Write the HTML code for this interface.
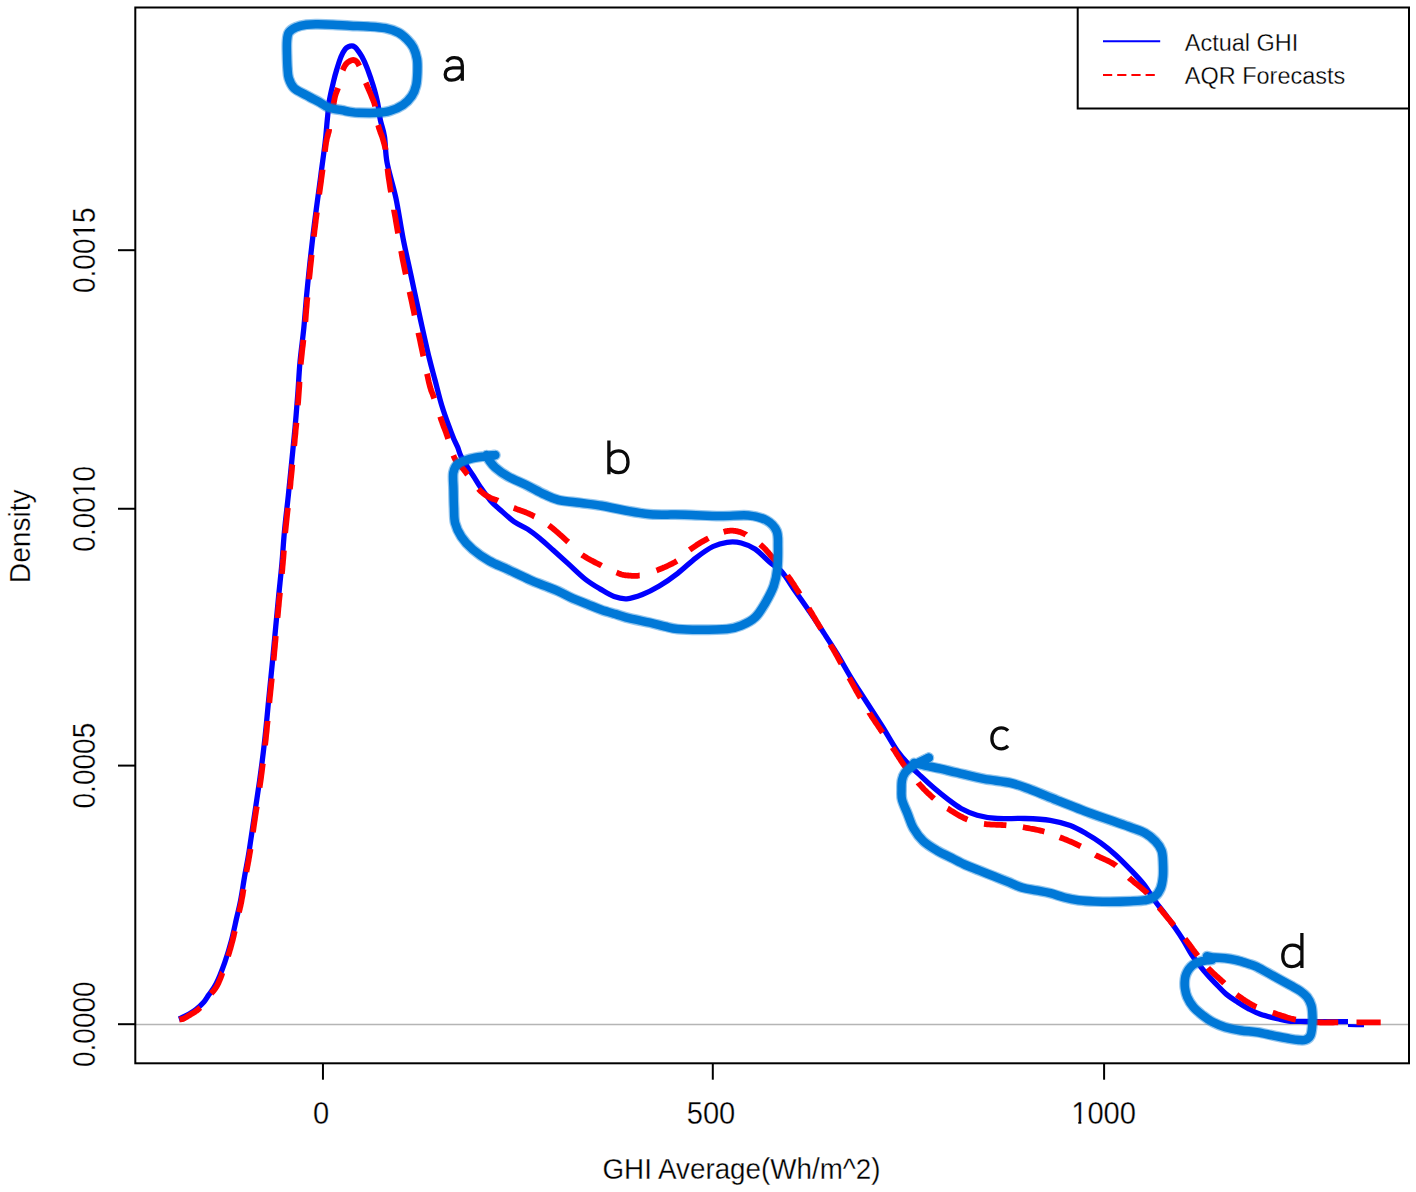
<!DOCTYPE html>
<html><head><meta charset="utf-8"><style>
html,body{margin:0;padding:0;background:#fff;}
body{width:1416px;height:1192px;overflow:hidden;font-family:"Liberation Sans",sans-serif;}
svg{display:block;}
</style></head><body>
<svg width="1416" height="1192" viewBox="0 0 1416 1192">
<rect width="1416" height="1192" fill="#fff"/>
<line x1="135.3" y1="1024.45" x2="1409" y2="1024.45" stroke="#b5b5b5" stroke-width="1.5"/>
<path d="M178.8,1019.0 C179.4,1018.8 180.6,1018.3 182.3,1017.5 C184.0,1016.7 186.7,1015.4 189.1,1014.0 C191.5,1012.6 194.0,1011.0 196.5,1009.0 C199.0,1007.0 201.8,1004.4 203.9,1002.0 C206.0,999.6 206.7,997.9 208.8,994.8 C210.9,991.7 213.7,988.9 216.3,983.5 C219.0,978.1 222.2,969.7 224.7,962.6 C227.2,955.5 229.5,948.0 231.4,940.7 C233.3,933.4 234.9,925.6 236.4,918.9 C237.9,912.2 239.2,907.8 240.6,900.5 C242.0,893.2 243.4,883.4 244.8,875.3 C246.2,867.2 247.6,860.8 249.0,851.8 C250.4,842.8 251.8,833.4 253.5,821.6 C255.2,809.9 257.6,794.7 259.5,781.3 C261.4,767.9 263.1,754.5 264.6,741.0 C266.1,727.5 267.3,714.1 268.6,700.6 C269.9,687.1 271.4,672.6 272.6,660.3 C273.8,648.0 274.7,637.5 275.7,627.0 C276.7,616.5 277.5,608.2 278.5,597.6 C279.5,587.0 280.9,574.9 281.9,563.6 C282.9,552.3 283.5,541.0 284.6,529.7 C285.7,518.4 287.1,507.0 288.3,495.7 C289.5,484.4 290.6,473.1 291.7,461.8 C292.8,450.5 294.0,439.2 295.0,427.9 C296.0,416.6 297.0,404.9 297.8,393.9 C298.6,382.9 299.0,372.9 300.0,362.0 C301.0,351.1 302.7,339.4 303.8,328.3 C304.9,317.2 305.6,306.5 306.6,295.6 C307.6,284.7 308.8,273.0 309.9,262.8 C311.0,252.6 312.0,243.5 313.1,234.4 C314.2,225.3 315.1,218.1 316.4,208.3 C317.7,198.5 319.4,186.4 320.8,175.5 C322.2,164.6 324.0,152.1 325.1,142.8 C326.2,133.5 326.6,126.8 327.3,119.8 C328.0,112.8 328.4,106.8 329.4,100.5 C330.4,94.2 332.2,87.2 333.4,82.0 C334.6,76.8 335.5,73.6 336.8,69.4 C338.1,65.2 339.6,60.2 341.0,56.8 C342.4,53.4 343.9,50.9 345.2,49.2 C346.5,47.5 347.5,47.2 348.6,46.6 C349.7,46.0 350.9,45.9 351.9,45.9 C352.9,45.9 353.7,46.2 354.5,46.8 C355.3,47.3 355.6,47.5 356.9,49.2 C358.1,50.9 360.3,53.7 362.0,56.8 C363.7,59.9 365.5,63.9 367.0,67.7 C368.5,71.5 369.9,75.7 371.2,79.5 C372.5,83.3 373.5,86.4 374.6,90.4 C375.7,94.5 376.9,98.9 377.8,103.8 C378.8,108.7 379.2,114.3 380.3,119.8 C381.4,125.3 383.4,129.4 384.5,136.6 C385.6,143.8 385.2,152.6 387.1,162.8 C389.0,173.0 393.2,185.3 395.9,198.0 C398.6,210.7 400.5,225.3 403.2,239.0 C405.9,252.7 409.1,266.4 412.0,280.1 C414.9,293.8 417.9,308.1 420.8,321.1 C423.7,334.1 426.8,348.2 429.2,358.0 C431.6,367.8 432.9,372.1 435.0,380.0 C437.1,387.9 439.3,397.4 441.7,405.2 C444.1,413.0 447.2,421.6 449.2,427.0 C451.1,432.4 452.0,434.5 453.4,437.9 C454.8,441.2 456.3,444.0 457.6,447.1 C458.9,450.2 459.4,453.1 461.0,456.3 C462.6,459.5 464.9,463.0 467.0,466.4 C469.1,469.8 471.5,473.1 473.7,476.5 C475.9,479.9 477.5,483.0 480.3,487.0 C483.1,491.0 487.0,496.6 490.3,500.4 C493.6,504.2 496.4,506.5 500.4,510.0 C504.3,513.5 509.5,518.4 514.0,521.6 C518.5,524.8 523.3,526.3 527.6,529.1 C531.9,531.9 535.4,534.7 539.7,538.2 C544.0,541.7 548.5,546.0 553.3,550.3 C558.1,554.6 563.1,559.1 568.4,563.9 C573.7,568.7 579.7,574.8 585.0,579.0 C590.3,583.2 595.1,586.0 600.0,588.9 C604.9,591.8 609.6,595.0 614.1,596.6 C618.6,598.2 622.1,599.1 626.8,598.8 C631.5,598.4 637.0,596.6 642.4,594.5 C647.8,592.4 653.4,589.5 659.3,586.0 C665.2,582.5 671.6,578.0 677.7,573.3 C683.8,568.6 690.1,562.3 696.0,557.8 C701.9,553.3 707.8,549.1 713.0,546.5 C718.2,543.9 722.4,542.9 727.1,542.3 C731.8,541.7 736.5,541.8 741.2,543.0 C745.9,544.2 750.7,546.1 755.4,549.3 C760.1,552.5 765.1,558.3 769.5,562.0 C773.9,565.7 777.3,566.8 781.6,571.6 C785.9,576.4 790.6,584.5 795.1,590.9 C799.6,597.3 803.8,603.1 808.6,610.2 C813.4,617.3 819.3,626.0 824.1,633.4 C828.9,640.8 833.1,647.2 837.6,654.6 C842.1,662.0 846.6,670.4 851.1,677.8 C855.6,685.2 859.5,691.0 864.6,699.0 C869.8,707.0 876.5,717.3 882.0,726.0 C887.5,734.7 892.9,744.7 897.4,751.1 C901.9,757.5 905.1,760.4 909.0,764.6 C912.9,768.8 916.7,772.2 920.9,776.2 C925.1,780.2 929.8,784.5 934.3,788.3 C938.8,792.1 943.2,795.7 947.7,799.1 C952.2,802.5 956.2,805.8 961.1,808.5 C966.0,811.2 971.2,813.5 977.2,815.2 C983.2,816.9 989.6,818.0 997.4,818.5 C1005.2,819.0 1015.4,818.2 1024.2,818.5 C1033.0,818.8 1042.4,819.1 1050.1,820.3 C1057.8,821.5 1064.2,823.4 1070.3,825.6 C1076.3,827.8 1081.3,830.8 1086.4,833.7 C1091.5,836.6 1096.2,839.5 1101.1,843.1 C1106.0,846.7 1111.0,850.7 1115.9,855.2 C1120.8,859.7 1126.0,865.0 1130.7,869.9 C1135.4,874.8 1140.1,879.6 1144.1,884.7 C1148.1,889.9 1151.4,896.1 1154.8,900.8 C1158.2,905.5 1160.8,908.4 1164.2,912.9 C1167.6,917.4 1171.8,923.1 1175.0,927.7 C1178.2,932.3 1180.6,935.8 1183.5,940.5 C1186.4,945.2 1189.2,951.0 1192.6,956.0 C1196.0,961.0 1200.1,966.2 1203.9,970.7 C1207.7,975.2 1211.4,979.2 1215.2,983.1 C1219.0,987.0 1222.7,991.2 1226.5,994.4 C1230.3,997.6 1234.0,999.8 1237.8,1002.3 C1241.6,1004.8 1245.3,1007.1 1249.1,1009.1 C1252.9,1011.1 1255.7,1012.6 1260.4,1014.2 C1265.1,1015.8 1272.6,1017.6 1277.3,1018.7 C1282.0,1019.8 1283.9,1020.5 1288.6,1021.0 C1293.3,1021.5 1298.7,1021.4 1305.6,1021.5 C1312.5,1021.6 1322.9,1021.6 1330.0,1021.6 C1337.1,1021.6 1345.0,1021.7 1348.0,1021.7" fill="none" stroke="#0000ff" stroke-width="5.3" stroke-linejoin="round"/>
<path d="M1348.0,1025.6 C1350.7,1025.6 1361.3,1025.8 1364.0,1025.8" fill="none" stroke="#0000ff" stroke-width="3" />
<path d="M179.6,1019.5 L179.8,1019.5 L180.0,1019.4 L180.3,1019.4 L180.5,1019.4 L180.8,1019.3 L181.2,1019.3 L181.5,1019.2 L181.9,1019.2 L182.3,1019.1 L182.7,1018.9 L183.2,1018.8 L183.6,1018.6 L184.1,1018.4 L184.6,1018.1 L185.1,1017.8 L185.7,1017.5 L186.2,1017.2 L186.8,1016.9 L187.4,1016.5 L188.1,1016.1 L188.7,1015.7 L189.3,1015.4 L189.9,1015.0 L190.5,1014.6 L191.1,1014.2 L191.7,1013.9 L192.3,1013.5 L192.9,1013.1 L193.5,1012.8 L194.2,1012.4 L194.8,1012.0 L195.4,1011.6 L196.0,1011.1 L196.7,1010.7 L197.3,1010.2 L197.9,1009.7 L198.5,1009.2 L199.2,1008.6 L199.8,1008.0 L200.3,1007.6M211.2,993.5 L211.3,993.4 L211.9,992.7 L212.5,992.0 L213.1,991.3 L213.8,990.5 L214.4,989.7 L215.1,988.8 L215.7,987.9 L216.4,986.9 L217.0,985.7 L217.7,984.5 L218.4,983.1 L219.0,981.6 L219.7,980.0 L220.4,978.3 L221.1,976.6 L221.8,974.7 L222.4,972.9 L222.5,972.8M228.1,956.1 L228.6,954.4 L229.2,952.6 L229.7,950.7 L230.3,948.9 L230.8,947.0 L231.3,945.2 L231.8,943.3 L232.3,941.5 L232.8,939.7 L233.2,937.8 L233.7,935.9 L234.1,934.0 L234.5,932.2 L234.8,931.0M239.0,912.3 L239.1,911.9 L239.4,910.4 L239.8,909.0 L240.1,907.5 L240.5,906.0 L240.8,904.4 L241.2,902.8 L241.5,901.0 L241.8,899.1 L242.2,897.2 L242.6,895.2 L242.9,893.1 L243.2,891.0 L243.6,889.1M246.4,871.9 L246.7,870.2 L247.1,868.3 L247.4,866.5 L247.8,864.6 L248.1,862.7 L248.5,860.8 L248.8,858.8 L249.2,856.8 L249.5,854.7 L249.9,852.5 L250.3,850.2 L250.4,849.0M252.9,832.1 L253.2,830.5 L253.6,827.7 L254.0,824.9 L254.4,822.0 L254.9,819.0 L255.3,815.9 L255.8,812.7 L256.3,809.4 L256.8,806.6M259.6,787.7 L259.9,785.4 L260.4,782.0 L260.9,778.6 L261.3,775.3 L261.8,771.9 L262.2,768.5 L262.6,765.2 L262.9,763.4M265.1,745.4 L265.1,744.9 L265.5,741.5 L265.9,738.1 L266.2,734.7 L266.6,731.4 L266.9,728.0 L267.2,724.6 L267.6,721.2 L267.6,720.9M269.3,702.9 L269.5,701.0 L269.8,697.6 L270.2,694.2 L270.5,690.8 L270.9,687.4 L271.2,684.0 L271.6,680.6 L271.8,678.5M273.6,660.4 L273.8,658.0 L274.1,655.0 L274.3,652.1 L274.6,649.2 L274.9,646.4 L275.1,643.6 L275.4,640.8 L275.6,638.1 L275.8,636.0M277.5,618.0 L277.5,617.5 L277.8,615.2 L278.0,612.8 L278.2,610.4 L278.4,608.0 L278.7,605.6 L278.9,603.1 L279.1,600.6 L279.4,598.0 L279.7,595.3 L279.9,592.7M281.9,573.9 L282.0,572.6 L282.3,569.7 L282.5,566.8 L282.8,564.0 L283.0,561.2 L283.3,558.3 L283.5,555.5 L283.7,552.7 L283.9,550.5M285.2,533.2 L285.2,532.8 L285.5,530.0 L285.8,527.2 L286.1,524.3 L286.4,521.5 L286.7,518.7 L287.0,515.8 L287.3,513.0 L287.6,510.2 L287.9,507.8M289.9,489.1 L290.1,487.5 L290.4,484.7 L290.6,481.8 L290.9,479.0 L291.2,476.2 L291.5,473.3 L291.8,470.5 L292.0,467.7 L292.3,464.8 L292.4,464.4M294.2,446.1 L294.3,445.0 L294.6,442.2 L294.8,439.3 L295.1,436.5 L295.4,433.7 L295.6,430.8 L295.9,428.0 L296.2,425.2 L296.4,422.7M297.8,405.3 L297.8,405.1 L298.1,402.3 L298.3,399.5 L298.5,396.7 L298.7,394.0 L298.9,391.3 L299.1,388.6 L299.3,386.0 L299.4,383.4 L299.5,381.8M300.7,364.4 L300.9,362.5 L301.2,359.7 L301.5,357.0 L301.8,354.1 L302.1,351.3 L302.4,348.4 L302.8,345.6 L303.1,342.7 L303.4,339.9M305.3,321.8 L305.5,320.3 L305.7,317.6 L305.9,314.9 L306.1,312.2 L306.3,309.5 L306.6,306.8 L306.8,304.1 L307.0,301.4 L307.3,298.7 L307.4,297.3M309.1,279.3 L309.1,279.2 L309.4,276.4 L309.7,273.6 L310.0,270.9 L310.2,268.2 L310.5,265.6 L310.8,263.0 L311.1,260.5 L311.3,258.0 L311.6,255.6 L311.7,254.8M313.8,236.7 L314.0,235.0 L314.3,232.8 L314.5,230.6 L314.8,228.5 L315.1,226.4 L315.3,224.4 L315.6,222.3 L315.8,220.2 L316.1,218.1 L316.4,215.9 L316.7,213.7 L316.9,212.3M319.2,194.3 L319.4,192.9 L319.8,190.1 L320.2,187.2 L320.6,184.4 L321.0,181.6 L321.3,178.8 L321.7,176.0 L322.1,173.2 L322.5,170.3 L322.5,169.8M324.9,151.7 L325.1,149.9 L325.4,147.5 L325.7,145.4 L326.0,143.5 L326.2,141.9 L326.5,140.7 L326.7,139.6 L326.8,138.8 L327.0,138.1 L327.1,137.5 L327.3,137.1 L327.4,136.7 L327.5,136.3 L327.7,135.9 L327.8,135.5 L327.9,135.0 L328.0,134.5 L328.1,134.0 L328.2,133.6 L328.3,133.3 L328.4,133.0 L328.5,132.7 L328.6,132.3 L328.7,132.0 L328.8,131.6 L328.9,131.1 L329.0,130.5 L329.1,129.8 L329.2,129.0M332.1,112.2 L332.1,112.0 L332.3,111.0 L332.4,110.1 L332.6,109.1 L332.8,108.2 L333.0,107.3 L333.1,106.4 L333.3,105.5 L333.5,104.6 L333.6,103.8 L333.8,103.0 L333.9,102.1 L334.1,101.3 L334.2,100.5 L334.4,99.8 L334.5,99.0 L334.7,98.2 L334.8,97.5 L335.0,96.7 L335.2,96.0 L335.4,95.3 L335.6,94.6 L335.8,93.9 L336.1,93.2 L336.3,92.6 L336.6,91.9 L336.8,91.3 L337.1,90.6 L337.3,90.0 L337.6,89.3 L337.8,88.6 L338.0,88.0M342.7,70.2 L343.0,69.6 L343.2,69.0 L343.5,68.3 L343.8,67.7 L344.1,67.1 L344.4,66.5 L344.7,66.0 L345.1,65.4 L345.4,64.9 L345.8,64.4 L346.1,63.9 L346.5,63.5 L346.9,63.1 L347.3,62.7 L347.8,62.3 L348.2,62.0 L348.7,61.7 L349.2,61.4 L349.7,61.1 L350.1,60.9 L350.6,60.7 L351.1,60.5 L351.5,60.3 L351.9,60.2 L352.3,60.1 L352.7,60.1 L353.0,60.0 L353.4,60.0 L353.8,60.1 L354.1,60.1 L354.4,60.2 L354.8,60.3 L355.1,60.5 L355.4,60.6 L355.7,60.8 L356.0,61.0 L356.3,61.2 L356.6,61.5 L356.8,61.7 L357.1,62.0 L357.3,62.3 L357.5,62.6 L357.8,63.0 L358.0,63.4 L358.2,63.8 L358.5,64.2 L358.7,64.7 L359.0,65.2 L359.3,65.7 L359.4,65.9M365.8,82.8 L366.2,83.7 L366.6,84.7 L367.0,85.7 L367.4,86.7 L367.9,87.7 L368.4,88.8 L368.8,89.8 L369.3,90.9 L369.7,91.9 L370.2,93.0 L370.6,94.0 L371.0,95.0 L371.4,96.0 L371.8,96.9 L372.1,97.7 L372.5,98.6 L372.8,99.4 L373.2,100.3 L373.5,101.1 L373.9,102.0 L374.2,103.0 L374.5,104.0 L374.8,105.1 L375.1,106.3 L375.1,106.4M378.1,125.0 L378.5,126.2 L378.8,127.5 L379.3,128.9 L379.7,130.2 L380.2,131.5 L380.6,132.8 L381.1,134.0 L381.5,135.2 L382.0,136.4 L382.4,137.6 L382.8,138.8 L383.1,139.9 L383.4,141.0 L383.7,141.9 L383.9,142.8 L384.2,143.7 L384.4,144.5 L384.6,145.3 L384.8,146.2 L385.0,147.1 L385.2,148.1 L385.4,149.2 L385.4,149.7M387.5,168.6 L387.6,169.4 L387.9,171.9 L388.2,174.6 L388.6,177.4 L389.1,180.4 L389.6,183.7 L390.1,187.2 L390.7,190.8 L391.0,192.3M394.0,209.7 L394.0,210.2 L394.7,214.0 L395.4,217.8 L396.0,221.4 L396.6,224.9 L397.2,228.4 L397.8,231.9 L398.1,233.4M401.1,250.9 L401.4,252.3 L402.0,255.7 L402.6,259.1 L403.3,262.5 L404.0,265.9 L404.7,269.3 L405.4,272.8 L405.8,274.4M409.5,291.8 L409.9,293.2 L410.6,296.7 L411.4,300.1 L412.1,303.5 L412.8,306.9 L413.6,310.4 L414.3,313.8 L414.6,315.4M418.4,332.8 L418.7,334.4 L419.5,337.8 L420.2,341.2 L420.9,344.6 L421.6,348.0 L422.4,351.6 L423.1,355.2 L423.4,356.3M427.0,373.7 L427.6,376.2 L428.2,379.2 L428.8,381.9 L429.4,384.2 L429.9,386.2 L430.3,387.7 L430.7,389.0 L431.0,389.9 L431.2,390.7 L431.5,391.4 L431.8,392.0 L432.0,392.7 L432.4,393.4 L432.7,394.3 L433.1,395.4 L433.6,396.8 L434.2,398.5 L434.2,398.5M440.2,416.6 L440.7,418.2 L441.4,420.2 L442.0,421.9 L442.5,423.4 L443.0,424.7 L443.4,425.9 L443.8,426.9 L444.2,427.9 L444.6,428.8 L444.9,429.7 L445.3,430.7 L445.7,431.7 L446.1,432.8 L446.5,434.0 L447.0,435.4 L447.5,437.0 L448.1,438.8 L448.1,438.8M453.4,455.4 L453.8,456.4 L454.5,458.0 L455.2,459.4 L456.0,460.6 L456.7,461.7 L457.5,462.7 L458.2,463.6 L459.0,464.5 L459.9,465.4 L460.7,466.3 L461.6,467.2 L462.5,468.2 L463.5,469.4 L464.5,470.6 L465.6,472.0 L466.7,473.6 L467.6,474.7M478.5,488.9 L479.3,489.8 L480.3,490.9 L481.3,491.8 L482.3,492.6 L483.2,493.4 L484.1,494.0 L484.9,494.6 L485.7,495.2 L486.6,495.7 L487.4,496.1 L488.2,496.6 L489.0,497.0 L489.8,497.5 L490.6,497.9 L491.3,498.3 L492.0,498.6 L492.7,498.8 L493.4,499.1 L494.1,499.3 L494.8,499.5 L495.5,499.7 L496.2,500.0 L497.1,500.3 L497.9,500.6 L498.1,500.7M513.7,507.9 L514.0,508.0 L515.3,508.5 L516.7,509.1 L518.0,509.6 L519.4,510.0 L520.7,510.5 L522.1,511.0 L523.5,511.5 L524.9,512.0 L526.3,512.6 L527.7,513.2 L529.2,513.8 L530.6,514.5 L532.1,515.2 L533.5,516.0 L534.6,516.5M548.8,525.3 L550.5,526.6 L552.3,528.0 L554.1,529.5 L556.0,531.1 L557.8,532.7 L559.7,534.4 L561.6,536.0 L563.4,537.7 L565.2,539.3 L566.9,540.8 L568.2,542.0M582.0,554.8 L583.4,555.8 L585.0,556.7 L586.6,557.7 L588.3,558.7 L590.1,559.7 L591.9,560.7 L593.7,561.6 L595.5,562.6 L597.3,563.5 L599.1,564.4 L600.8,565.3 L601.5,565.7M616.5,572.5 L617.5,572.9 L618.7,573.4 L619.8,573.8 L620.8,574.2 L621.7,574.5 L622.5,574.7 L623.2,574.9 L623.8,575.0 L624.4,575.1 L625.0,575.2 L625.5,575.3 L626.1,575.3 L626.7,575.4 L627.4,575.4 L628.2,575.5 L629.0,575.6 L629.8,575.7 L630.7,575.7 L631.5,575.8 L632.4,575.9 L633.3,575.9 L634.2,575.9 L635.2,575.9 L636.2,575.9 L637.3,575.8 L638.3,575.7 L639.5,575.5 L639.7,575.5M656.5,570.5 L658.1,569.9 L659.7,569.2 L661.4,568.6 L663.1,567.8 L664.8,567.1 L666.6,566.3 L668.3,565.5 L670.0,564.7 L671.7,563.9 L673.3,563.0 L674.8,562.2 L676.3,561.3 L677.0,560.9M689.6,549.9 L690.4,549.3 L691.8,548.3 L693.3,547.3 L694.8,546.3 L696.3,545.3 L697.9,544.3 L699.5,543.3 L701.1,542.3 L702.7,541.4 L704.3,540.5 L705.9,539.6 L707.4,538.8 L708.5,538.2M723.6,531.9 L724.3,531.7 L725.4,531.4 L726.4,531.2 L727.4,531.0 L728.4,530.9 L729.3,530.8 L730.2,530.7 L731.1,530.7 L732.0,530.7 L732.9,530.7 L733.8,530.8 L734.7,530.9 L735.6,531.0 L736.5,531.2 L737.5,531.4 L738.4,531.6 L739.3,531.8 L740.2,532.1 L741.1,532.4 L742.0,532.8 L742.9,533.2 L743.9,533.6 L744.9,534.1 L745.9,534.6 L746.0,534.7M760.2,544.4 L761.0,545.1 L762.0,546.0 L762.9,546.8 L763.8,547.6 L764.6,548.5 L765.4,549.3 L766.2,550.2 L767.0,551.1 L767.8,552.0 L768.7,553.0 L769.6,554.1 L770.5,555.2 L771.6,556.4 L772.7,557.7 L774.0,559.1 L775.3,560.6 L776.2,561.7M787.3,575.2 L787.4,575.4 L788.5,576.9 L789.6,578.4 L790.6,579.8 L791.6,581.3 L792.5,582.7 L793.5,584.1 L794.4,585.6 L795.3,587.0 L796.2,588.4 L797.1,589.9 L798.1,591.3 L799.0,592.8 L799.8,594.1M808.7,608.2 L809.6,609.7 L810.5,611.2 L811.4,612.6 L812.2,614.0 L813.0,615.4 L813.8,616.7 L814.6,618.0 L815.3,619.3 L816.1,620.7 L816.9,622.0 L817.7,623.3 L818.5,624.7 L819.3,626.1 L820.2,627.6 L821.1,629.1 L821.1,629.1M830.4,644.5 L830.6,644.9 L831.8,646.9 L833.1,649.1 L834.5,651.5 L835.9,654.1 L837.5,656.8 L839.0,659.6 L840.6,662.5 L841.3,663.6M849.2,677.8 L850.3,679.7 L851.2,681.4 L852.1,683.0 L852.9,684.5 L853.7,685.9 L854.4,687.2 L855.1,688.4 L855.7,689.7 L856.4,691.0 L857.2,692.3 L858.0,693.6 L858.8,695.1 L859.7,696.6 L860.5,698.0M869.3,712.6 L869.4,712.9 L870.4,714.4 L871.4,715.9 L872.3,717.4 L873.3,718.9 L874.3,720.3 L875.2,721.8 L876.2,723.2 L877.2,724.6 L878.1,726.1 L879.1,727.5 L880.1,728.9 L881.0,730.4 L882.0,731.8 L882.6,732.7M892.5,747.6 L892.6,747.8 L893.6,749.2 L894.6,750.6 L895.5,752.1 L896.4,753.5 L897.3,755.0 L898.3,756.4 L899.2,757.9 L900.1,759.3 L901.1,760.8 L902.0,762.2 L903.0,763.7 L904.0,765.1 L905.1,766.6 L906.2,768.1 L906.4,768.4M918.1,782.7 L918.3,783.0 L919.5,784.3 L920.7,785.6 L921.8,786.8 L922.9,788.0 L924.0,789.2 L925.1,790.3 L926.2,791.4 L927.3,792.5 L928.4,793.6 L929.6,794.6 L930.7,795.7 L931.8,796.7 L933.0,797.7 L934.0,798.6M947.5,808.4 L947.7,808.5 L949.1,809.4 L950.6,810.4 L952.1,811.3 L953.7,812.3 L955.3,813.3 L956.9,814.2 L958.6,815.2 L960.2,816.1 L961.8,816.9 L963.4,817.8 L965.0,818.5 L966.5,819.2 L967.5,819.6M984.0,823.9 L985.7,824.1 L987.4,824.3 L989.2,824.4 L991.0,824.6 L992.8,824.6 L994.7,824.7 L996.6,824.8 L998.4,824.8 L1000.2,824.9 L1002.0,825.0 L1003.7,825.1 L1005.4,825.2 L1006.4,825.3M1022.9,827.2 L1024.6,827.5 L1026.4,827.8 L1028.2,828.1 L1030.1,828.5 L1032.0,828.8 L1033.9,829.2 L1035.9,829.6 L1037.8,830.0 L1039.6,830.4 L1041.4,830.8 L1043.2,831.3 L1044.4,831.6M1059.7,837.2 L1060.9,837.7 L1062.4,838.3 L1063.9,838.9 L1065.5,839.5 L1067.1,840.2 L1068.7,840.9 L1070.3,841.5 L1071.9,842.2 L1073.5,842.9 L1075.1,843.6 L1076.7,844.4 L1078.2,845.1 L1079.7,845.8 L1080.7,846.3M1095.3,854.9 L1095.8,855.2 L1097.3,856.0 L1098.8,856.7 L1100.4,857.5 L1102.0,858.2 L1103.6,858.9 L1105.3,859.7 L1106.9,860.4 L1108.5,861.2 L1110.1,862.0 L1111.7,862.8 L1113.2,863.7 L1114.6,864.6 L1116.0,865.6 L1116.2,865.8M1129.0,877.7 L1129.3,878.0 L1130.7,879.3 L1132.3,880.5 L1133.9,881.9 L1135.5,883.2 L1137.2,884.6 L1138.9,886.0 L1140.5,887.3 L1142.2,888.7 L1143.8,890.1 L1145.3,891.5 L1146.8,892.8 L1147.5,893.5M1159.0,907.4 L1159.2,907.6 L1160.2,908.9 L1161.3,910.2 L1162.4,911.5 L1163.5,912.9 L1164.6,914.2 L1165.8,915.6 L1166.9,917.0 L1168.0,918.3 L1169.2,919.7 L1170.3,921.0 L1171.4,922.4 L1172.5,923.7 L1173.6,925.0 L1174.0,925.4M1185.0,938.8 L1185.7,939.7 L1186.7,941.0 L1187.6,942.2 L1188.6,943.5 L1189.6,944.8 L1190.5,946.1 L1191.5,947.4 L1192.4,948.7 L1193.3,949.9 L1194.3,951.2 L1195.2,952.5 L1196.2,953.7 L1197.1,954.9 L1197.8,955.8M1207.9,967.8 L1208.4,968.4 L1209.6,969.7 L1211.0,971.0 L1212.4,972.3 L1213.8,973.7 L1215.3,975.0 L1216.8,976.4 L1218.4,977.8 L1219.9,979.2 L1221.3,980.5 L1222.8,981.8 L1224.1,983.0 L1224.3,983.2M1236.6,994.6 L1236.6,994.6 L1237.8,995.5 L1239.1,996.5 L1240.5,997.4 L1241.9,998.4 L1243.4,999.5 L1244.9,1000.5 L1246.5,1001.5 L1248.1,1002.4 L1249.7,1003.4 L1251.2,1004.3 L1252.8,1005.2 L1254.4,1006.0 L1255.9,1006.8 L1256.4,1007.0M1272.7,1012.7 L1274.0,1013.1 L1275.6,1013.6 L1277.2,1014.2 L1278.9,1014.7 L1280.5,1015.3 L1282.2,1015.9 L1283.9,1016.4 L1285.6,1016.9 L1287.3,1017.5 L1289.0,1018.0 L1290.8,1018.5 L1292.5,1018.9 L1294.3,1019.3 L1295.8,1019.6M1313.5,1022.0 L1315.0,1022.2 L1316.9,1022.3 L1318.8,1022.4 L1320.5,1022.5 L1322.2,1022.5 L1323.9,1022.6 L1325.6,1022.6 L1327.3,1022.5 L1329.1,1022.5 L1331.0,1022.5 L1333.0,1022.5 L1335.1,1022.4 L1337.4,1022.4 L1338.2,1022.4M1356.5,1022.4 L1357.9,1022.4 L1361.9,1022.4 L1365.9,1022.4 L1369.7,1022.4 L1373.2,1022.4 L1376.3,1022.4 L1379.0,1022.4 L1380.7,1022.4" fill="none" stroke="#ff0000" stroke-width="5.8" stroke-linejoin="round"/>
<g opacity="0.42">
<path d="M295.9,27.3 C293.0,28.6 290.3,30.2 288.8,32.6 C287.3,35.0 287.3,37.7 287.0,41.4 C286.7,45.1 286.9,50.2 287.0,54.6 C287.1,59.0 287.2,63.9 287.5,67.9 C287.8,71.9 287.7,75.0 288.8,78.4 C289.9,81.8 291.2,85.3 294.1,88.1 C297.0,90.9 302.1,92.8 306.4,95.2 C310.6,97.6 315.9,100.2 319.6,102.2 C323.3,104.2 324.8,106.2 328.5,107.5 C332.2,108.8 338.1,109.5 341.7,110.2 C345.3,110.9 347.1,111.5 350.0,111.9 C352.9,112.3 354.4,112.7 358.8,112.8 C363.2,112.9 371.3,113.1 376.4,112.8 C381.5,112.5 385.2,112.3 389.6,111.0 C394.0,109.7 399.2,107.4 402.9,104.9 C406.6,102.4 409.5,99.3 411.7,96.1 C413.9,92.9 415.2,89.5 416.1,85.5 C417.1,81.5 417.2,76.7 417.4,72.3 C417.5,67.9 417.7,63.1 417.0,59.0 C416.3,54.9 415.0,50.8 413.4,47.6 C411.8,44.4 409.8,42.2 407.3,39.7 C404.8,37.2 402.2,34.5 398.5,32.6 C394.8,30.7 390.3,29.2 385.2,28.2 C380.1,27.2 373.5,26.9 367.6,26.5 C361.7,26.1 355.8,26.1 350.0,25.8 C344.2,25.5 338.3,24.9 333.0,24.7 C327.7,24.4 322.4,24.3 318.0,24.3 C313.6,24.3 310.1,24.2 306.4,24.7 C302.7,25.2 298.8,26.0 295.9,27.3 Z" fill="none" stroke="#0078d7" stroke-width="10.9" stroke-linecap="round" stroke-linejoin="round"/>
<path d="M495.3,455.1 C493.6,455.3 489.5,455.7 485.3,456.3 C481.1,456.9 474.8,457.5 470.2,458.8 C465.6,460.1 460.8,461.6 458.0,463.9 C455.2,466.2 454.1,468.5 453.3,472.7 C452.6,476.9 453.4,483.1 453.5,489.0 C453.6,494.9 453.7,502.2 454.0,507.9 C454.3,513.6 453.9,518.2 455.1,523.0 C456.3,527.8 458.5,532.4 461.4,536.8 C464.3,541.2 468.1,545.4 472.7,549.4 C477.3,553.4 483.1,557.4 489.0,560.7 C494.9,564.1 501.1,566.3 507.9,569.5 C514.7,572.7 523.9,577.2 530.0,579.9 C536.1,582.6 539.5,583.7 544.3,585.6 C549.0,587.5 553.8,589.2 558.5,591.3 C563.2,593.4 568.0,596.3 572.8,598.4 C577.6,600.5 582.4,602.2 587.1,604.1 C591.9,606.0 596.5,608.1 601.3,609.8 C606.0,611.5 610.8,612.7 615.6,614.1 C620.4,615.5 624.2,617.0 629.9,618.4 C635.6,619.8 644.1,621.4 650.0,622.7 C655.9,624.1 660.4,625.4 665.0,626.5 C669.6,627.6 672.1,628.6 677.7,629.1 C683.4,629.6 690.7,629.8 698.9,629.8 C707.1,629.8 720.0,629.8 727.1,629.1 C734.2,628.4 736.5,627.6 741.2,625.6 C745.9,623.6 751.4,620.9 755.4,617.1 C759.4,613.3 762.2,608.2 765.3,603.0 C768.3,597.8 771.7,591.6 773.7,586.0 C775.7,580.4 776.6,575.7 777.3,569.1 C778.0,562.5 778.1,552.9 778.0,546.5 C777.9,540.1 778.5,535.4 776.6,531.0 C774.7,526.6 771.4,523.0 766.7,520.4 C762.0,517.8 756.1,516.1 748.3,515.4 C740.5,514.7 730.6,516.2 720.0,516.1 C709.4,516.0 696.4,515.0 684.7,514.7 C673.0,514.4 660.3,515.0 650.0,514.2 C639.7,513.4 630.9,511.4 622.8,510.0 C614.7,508.6 608.4,506.9 601.3,505.7 C594.1,504.5 587.0,503.8 579.9,502.8 C572.8,501.9 564.4,501.4 558.5,500.0 C552.6,498.6 549.6,496.8 544.3,494.3 C539.0,491.9 532.9,488.3 526.8,485.3 C520.7,482.3 513.1,479.3 507.9,476.4 C502.6,473.4 498.4,470.3 495.3,467.6 C492.2,464.9 490.5,462.2 489.0,460.1 C487.5,458.0 486.9,455.9 486.5,455.1" fill="none" stroke="#0078d7" stroke-width="10.9" stroke-linecap="round" stroke-linejoin="round"/>
<path d="M928.7,757.8 C927.3,758.5 922.9,760.4 920.2,761.8 C917.5,763.2 915.1,764.3 912.6,766.1 C910.1,767.9 906.9,770.4 905.1,772.7 C903.3,775.1 902.6,777.3 902.0,780.2 C901.4,783.1 901.5,787.0 901.5,790.3 C901.5,793.6 901.1,796.0 902.1,800.0 C903.1,804.0 905.8,809.4 907.7,814.1 C909.6,818.8 910.8,823.7 913.4,828.2 C916.0,832.7 919.2,837.2 923.2,841.0 C927.2,844.8 932.7,848.0 937.4,850.8 C942.1,853.6 946.8,855.5 951.5,857.9 C956.2,860.3 960.9,862.9 965.6,865.0 C970.3,867.1 975.0,868.7 979.7,870.6 C984.4,872.5 989.2,874.4 993.9,876.3 C998.6,878.2 1003.3,880.0 1008.0,881.9 C1012.7,883.8 1017.4,886.2 1022.1,887.6 C1026.8,889.0 1031.5,889.5 1036.2,890.4 C1040.9,891.3 1045.7,892.0 1050.4,893.2 C1055.1,894.4 1059.8,896.3 1064.5,897.5 C1069.2,898.7 1073.5,899.6 1078.6,900.3 C1083.7,900.9 1089.8,901.2 1095.0,901.4 C1100.2,901.6 1104.2,901.7 1110.1,901.7 C1116.0,901.7 1124.4,901.5 1130.3,901.2 C1136.2,901.0 1141.4,901.0 1145.4,900.2 C1149.4,899.5 1152.0,898.6 1154.5,896.7 C1157.0,894.8 1159.1,892.0 1160.5,888.6 C1161.9,885.2 1162.6,880.9 1163.0,876.5 C1163.4,872.1 1163.2,866.8 1163.0,862.4 C1162.8,858.0 1162.8,853.9 1161.5,850.4 C1160.2,846.9 1158.2,844.2 1155.5,841.3 C1152.8,838.4 1149.6,835.6 1145.4,833.2 C1141.2,830.9 1136.2,829.4 1130.3,827.2 C1124.4,825.0 1116.8,822.5 1110.1,820.1 C1103.4,817.8 1098.9,816.4 1090.0,813.1 C1081.1,809.8 1066.6,804.0 1056.8,800.1 C1047.0,796.2 1038.6,792.6 1030.9,789.7 C1023.2,786.9 1018.6,784.8 1010.8,783.0 C1003.0,781.2 993.0,780.6 984.0,778.9 C975.0,777.2 964.4,774.4 957.1,772.7 C949.8,771.0 945.6,769.9 940.3,768.7 C935.0,767.5 929.6,766.6 925.2,765.6 C920.8,764.6 915.9,763.4 914.0,763.0" fill="none" stroke="#0078d7" stroke-width="10.9" stroke-linecap="round" stroke-linejoin="round"/>
<path d="M1207.0,956.2 C1208.3,956.4 1212.0,957.3 1215.0,957.6 C1218.0,957.9 1221.7,957.8 1225.0,958.2 C1228.3,958.6 1232.2,959.2 1235.0,959.8 C1237.8,960.4 1239.5,961.0 1242.0,961.7 C1244.5,962.5 1247.5,963.4 1250.0,964.3 C1252.5,965.1 1252.9,964.8 1256.8,966.8 C1260.7,968.8 1267.9,972.9 1273.5,976.0 C1279.1,979.1 1285.8,982.8 1290.3,985.3 C1294.8,987.8 1297.6,989.1 1300.4,991.1 C1303.2,993.1 1305.3,994.6 1307.1,997.0 C1308.9,999.4 1310.4,1002.2 1311.3,1005.4 C1312.2,1008.6 1312.4,1012.7 1312.5,1016.3 C1312.6,1019.9 1312.4,1024.0 1312.1,1027.2 C1311.8,1030.4 1311.5,1033.5 1310.4,1035.6 C1309.3,1037.7 1307.4,1039.1 1305.4,1039.8 C1303.5,1040.5 1301.2,1040.2 1298.7,1040.0 C1296.2,1039.8 1294.5,1039.6 1290.3,1038.9 C1286.1,1038.2 1279.1,1036.7 1273.5,1035.6 C1267.9,1034.5 1262.2,1033.0 1256.8,1032.2 C1251.4,1031.4 1246.2,1031.3 1241.0,1030.5 C1235.8,1029.7 1230.0,1028.6 1225.3,1027.2 C1220.6,1025.8 1216.5,1024.1 1212.7,1022.1 C1208.9,1020.1 1205.9,1017.9 1202.7,1015.4 C1199.5,1012.9 1196.0,1010.2 1193.4,1007.1 C1190.8,1004.0 1188.6,1000.2 1187.2,997.0 C1185.8,993.8 1185.3,990.6 1184.9,988.0 C1184.5,985.4 1184.6,983.5 1184.7,981.6 C1184.8,979.7 1185.0,978.2 1185.4,976.5 C1185.9,974.8 1186.5,973.1 1187.4,971.5 C1188.3,969.9 1189.6,968.1 1190.8,966.8 C1192.0,965.5 1193.0,964.7 1194.8,963.8 C1196.6,962.9 1199.5,961.8 1201.5,961.2 C1203.5,960.6 1205.2,960.4 1207.0,960.2 C1208.8,960.0 1211.2,959.9 1212.0,959.8" fill="none" stroke="#0078d7" stroke-width="10.9" stroke-linecap="round" stroke-linejoin="round"/>
<path d="M487,456 L494.5,455.3" fill="none" stroke="#0078d7" stroke-width="10.9" stroke-linecap="round" stroke-linejoin="round"/>
<path d="M921,762 L928.7,757.8" fill="none" stroke="#0078d7" stroke-width="10.9" stroke-linecap="round" stroke-linejoin="round"/>
</g>
<path d="M295.9,27.3 C293.0,28.6 290.3,30.2 288.8,32.6 C287.3,35.0 287.3,37.7 287.0,41.4 C286.7,45.1 286.9,50.2 287.0,54.6 C287.1,59.0 287.2,63.9 287.5,67.9 C287.8,71.9 287.7,75.0 288.8,78.4 C289.9,81.8 291.2,85.3 294.1,88.1 C297.0,90.9 302.1,92.8 306.4,95.2 C310.6,97.6 315.9,100.2 319.6,102.2 C323.3,104.2 324.8,106.2 328.5,107.5 C332.2,108.8 338.1,109.5 341.7,110.2 C345.3,110.9 347.1,111.5 350.0,111.9 C352.9,112.3 354.4,112.7 358.8,112.8 C363.2,112.9 371.3,113.1 376.4,112.8 C381.5,112.5 385.2,112.3 389.6,111.0 C394.0,109.7 399.2,107.4 402.9,104.9 C406.6,102.4 409.5,99.3 411.7,96.1 C413.9,92.9 415.2,89.5 416.1,85.5 C417.1,81.5 417.2,76.7 417.4,72.3 C417.5,67.9 417.7,63.1 417.0,59.0 C416.3,54.9 415.0,50.8 413.4,47.6 C411.8,44.4 409.8,42.2 407.3,39.7 C404.8,37.2 402.2,34.5 398.5,32.6 C394.8,30.7 390.3,29.2 385.2,28.2 C380.1,27.2 373.5,26.9 367.6,26.5 C361.7,26.1 355.8,26.1 350.0,25.8 C344.2,25.5 338.3,24.9 333.0,24.7 C327.7,24.4 322.4,24.3 318.0,24.3 C313.6,24.3 310.1,24.2 306.4,24.7 C302.7,25.2 298.8,26.0 295.9,27.3 Z" fill="none" stroke="#0078d7" stroke-width="8.5" stroke-linecap="round" stroke-linejoin="round"/>
<path d="M495.3,455.1 C493.6,455.3 489.5,455.7 485.3,456.3 C481.1,456.9 474.8,457.5 470.2,458.8 C465.6,460.1 460.8,461.6 458.0,463.9 C455.2,466.2 454.1,468.5 453.3,472.7 C452.6,476.9 453.4,483.1 453.5,489.0 C453.6,494.9 453.7,502.2 454.0,507.9 C454.3,513.6 453.9,518.2 455.1,523.0 C456.3,527.8 458.5,532.4 461.4,536.8 C464.3,541.2 468.1,545.4 472.7,549.4 C477.3,553.4 483.1,557.4 489.0,560.7 C494.9,564.1 501.1,566.3 507.9,569.5 C514.7,572.7 523.9,577.2 530.0,579.9 C536.1,582.6 539.5,583.7 544.3,585.6 C549.0,587.5 553.8,589.2 558.5,591.3 C563.2,593.4 568.0,596.3 572.8,598.4 C577.6,600.5 582.4,602.2 587.1,604.1 C591.9,606.0 596.5,608.1 601.3,609.8 C606.0,611.5 610.8,612.7 615.6,614.1 C620.4,615.5 624.2,617.0 629.9,618.4 C635.6,619.8 644.1,621.4 650.0,622.7 C655.9,624.1 660.4,625.4 665.0,626.5 C669.6,627.6 672.1,628.6 677.7,629.1 C683.4,629.6 690.7,629.8 698.9,629.8 C707.1,629.8 720.0,629.8 727.1,629.1 C734.2,628.4 736.5,627.6 741.2,625.6 C745.9,623.6 751.4,620.9 755.4,617.1 C759.4,613.3 762.2,608.2 765.3,603.0 C768.3,597.8 771.7,591.6 773.7,586.0 C775.7,580.4 776.6,575.7 777.3,569.1 C778.0,562.5 778.1,552.9 778.0,546.5 C777.9,540.1 778.5,535.4 776.6,531.0 C774.7,526.6 771.4,523.0 766.7,520.4 C762.0,517.8 756.1,516.1 748.3,515.4 C740.5,514.7 730.6,516.2 720.0,516.1 C709.4,516.0 696.4,515.0 684.7,514.7 C673.0,514.4 660.3,515.0 650.0,514.2 C639.7,513.4 630.9,511.4 622.8,510.0 C614.7,508.6 608.4,506.9 601.3,505.7 C594.1,504.5 587.0,503.8 579.9,502.8 C572.8,501.9 564.4,501.4 558.5,500.0 C552.6,498.6 549.6,496.8 544.3,494.3 C539.0,491.9 532.9,488.3 526.8,485.3 C520.7,482.3 513.1,479.3 507.9,476.4 C502.6,473.4 498.4,470.3 495.3,467.6 C492.2,464.9 490.5,462.2 489.0,460.1 C487.5,458.0 486.9,455.9 486.5,455.1" fill="none" stroke="#0078d7" stroke-width="8.5" stroke-linecap="round" stroke-linejoin="round"/>
<path d="M928.7,757.8 C927.3,758.5 922.9,760.4 920.2,761.8 C917.5,763.2 915.1,764.3 912.6,766.1 C910.1,767.9 906.9,770.4 905.1,772.7 C903.3,775.1 902.6,777.3 902.0,780.2 C901.4,783.1 901.5,787.0 901.5,790.3 C901.5,793.6 901.1,796.0 902.1,800.0 C903.1,804.0 905.8,809.4 907.7,814.1 C909.6,818.8 910.8,823.7 913.4,828.2 C916.0,832.7 919.2,837.2 923.2,841.0 C927.2,844.8 932.7,848.0 937.4,850.8 C942.1,853.6 946.8,855.5 951.5,857.9 C956.2,860.3 960.9,862.9 965.6,865.0 C970.3,867.1 975.0,868.7 979.7,870.6 C984.4,872.5 989.2,874.4 993.9,876.3 C998.6,878.2 1003.3,880.0 1008.0,881.9 C1012.7,883.8 1017.4,886.2 1022.1,887.6 C1026.8,889.0 1031.5,889.5 1036.2,890.4 C1040.9,891.3 1045.7,892.0 1050.4,893.2 C1055.1,894.4 1059.8,896.3 1064.5,897.5 C1069.2,898.7 1073.5,899.6 1078.6,900.3 C1083.7,900.9 1089.8,901.2 1095.0,901.4 C1100.2,901.6 1104.2,901.7 1110.1,901.7 C1116.0,901.7 1124.4,901.5 1130.3,901.2 C1136.2,901.0 1141.4,901.0 1145.4,900.2 C1149.4,899.5 1152.0,898.6 1154.5,896.7 C1157.0,894.8 1159.1,892.0 1160.5,888.6 C1161.9,885.2 1162.6,880.9 1163.0,876.5 C1163.4,872.1 1163.2,866.8 1163.0,862.4 C1162.8,858.0 1162.8,853.9 1161.5,850.4 C1160.2,846.9 1158.2,844.2 1155.5,841.3 C1152.8,838.4 1149.6,835.6 1145.4,833.2 C1141.2,830.9 1136.2,829.4 1130.3,827.2 C1124.4,825.0 1116.8,822.5 1110.1,820.1 C1103.4,817.8 1098.9,816.4 1090.0,813.1 C1081.1,809.8 1066.6,804.0 1056.8,800.1 C1047.0,796.2 1038.6,792.6 1030.9,789.7 C1023.2,786.9 1018.6,784.8 1010.8,783.0 C1003.0,781.2 993.0,780.6 984.0,778.9 C975.0,777.2 964.4,774.4 957.1,772.7 C949.8,771.0 945.6,769.9 940.3,768.7 C935.0,767.5 929.6,766.6 925.2,765.6 C920.8,764.6 915.9,763.4 914.0,763.0" fill="none" stroke="#0078d7" stroke-width="8.5" stroke-linecap="round" stroke-linejoin="round"/>
<path d="M1207.0,956.2 C1208.3,956.4 1212.0,957.3 1215.0,957.6 C1218.0,957.9 1221.7,957.8 1225.0,958.2 C1228.3,958.6 1232.2,959.2 1235.0,959.8 C1237.8,960.4 1239.5,961.0 1242.0,961.7 C1244.5,962.5 1247.5,963.4 1250.0,964.3 C1252.5,965.1 1252.9,964.8 1256.8,966.8 C1260.7,968.8 1267.9,972.9 1273.5,976.0 C1279.1,979.1 1285.8,982.8 1290.3,985.3 C1294.8,987.8 1297.6,989.1 1300.4,991.1 C1303.2,993.1 1305.3,994.6 1307.1,997.0 C1308.9,999.4 1310.4,1002.2 1311.3,1005.4 C1312.2,1008.6 1312.4,1012.7 1312.5,1016.3 C1312.6,1019.9 1312.4,1024.0 1312.1,1027.2 C1311.8,1030.4 1311.5,1033.5 1310.4,1035.6 C1309.3,1037.7 1307.4,1039.1 1305.4,1039.8 C1303.5,1040.5 1301.2,1040.2 1298.7,1040.0 C1296.2,1039.8 1294.5,1039.6 1290.3,1038.9 C1286.1,1038.2 1279.1,1036.7 1273.5,1035.6 C1267.9,1034.5 1262.2,1033.0 1256.8,1032.2 C1251.4,1031.4 1246.2,1031.3 1241.0,1030.5 C1235.8,1029.7 1230.0,1028.6 1225.3,1027.2 C1220.6,1025.8 1216.5,1024.1 1212.7,1022.1 C1208.9,1020.1 1205.9,1017.9 1202.7,1015.4 C1199.5,1012.9 1196.0,1010.2 1193.4,1007.1 C1190.8,1004.0 1188.6,1000.2 1187.2,997.0 C1185.8,993.8 1185.3,990.6 1184.9,988.0 C1184.5,985.4 1184.6,983.5 1184.7,981.6 C1184.8,979.7 1185.0,978.2 1185.4,976.5 C1185.9,974.8 1186.5,973.1 1187.4,971.5 C1188.3,969.9 1189.6,968.1 1190.8,966.8 C1192.0,965.5 1193.0,964.7 1194.8,963.8 C1196.6,962.9 1199.5,961.8 1201.5,961.2 C1203.5,960.6 1205.2,960.4 1207.0,960.2 C1208.8,960.0 1211.2,959.9 1212.0,959.8" fill="none" stroke="#0078d7" stroke-width="8.5" stroke-linecap="round" stroke-linejoin="round"/>
<path d="M487,456 L494.5,455.3" fill="none" stroke="#0078d7" stroke-width="8.5" stroke-linecap="round" stroke-linejoin="round"/>
<path d="M921,762 L928.7,757.8" fill="none" stroke="#0078d7" stroke-width="8.5" stroke-linecap="round" stroke-linejoin="round"/>
<rect x="135.3" y="7.5" width="1273.7" height="1055.8" fill="none" stroke="#000" stroke-width="2"/>
<path d="M1077.7,7.5 V108.6 H1409" fill="none" stroke="#000" stroke-width="2"/>
<line x1="1103" y1="41.2" x2="1160.2" y2="41.2" stroke="#0000ff" stroke-width="2"/>
<line x1="1103" y1="74.9" x2="1156" y2="74.9" stroke="#ff0000" stroke-width="2" stroke-dasharray="9.2 5"/>
<line x1="118" y1="250.2" x2="135.3" y2="250.2" stroke="#000" stroke-width="2"/>
<line x1="118" y1="508.75" x2="135.3" y2="508.75" stroke="#000" stroke-width="2"/>
<line x1="118" y1="765.6" x2="135.3" y2="765.6" stroke="#000" stroke-width="2"/>
<line x1="118" y1="1024.2" x2="135.3" y2="1024.2" stroke="#000" stroke-width="2"/>
<line x1="322.95" y1="1063.3" x2="322.95" y2="1079.7" stroke="#000" stroke-width="2"/>
<line x1="712.8" y1="1063.3" x2="712.8" y2="1079.7" stroke="#000" stroke-width="2"/>
<line x1="1104.1" y1="1063.3" x2="1104.1" y2="1079.7" stroke="#000" stroke-width="2"/>
<g transform="translate(95.3,250.2) rotate(-90) scale(0.92,1)"><text font-family="Liberation Sans, sans-serif" fill="#000" stroke="#fff" stroke-width="0.3" font-size="30.5" text-anchor="middle">0.0015</text><rect x="14.36" y="-3.38" width="5.78" height="4.08" fill="#fff"/><rect x="23.33" y="-3.38" width="6.02" height="4.08" fill="#fff"/></g>
<g transform="translate(95.3,508.75) rotate(-90) scale(0.92,1)"><text font-family="Liberation Sans, sans-serif" fill="#000" stroke="#fff" stroke-width="0.3" font-size="30.5" text-anchor="middle">0.0010</text><rect x="14.36" y="-3.38" width="5.78" height="4.08" fill="#fff"/><rect x="23.33" y="-3.38" width="6.02" height="4.08" fill="#fff"/></g>
<g transform="translate(95.3,765.6) rotate(-90) scale(0.92,1)"><text font-family="Liberation Sans, sans-serif" fill="#000" stroke="#fff" stroke-width="0.3" font-size="30.5" text-anchor="middle">0.0005</text></g>
<g transform="translate(95.3,1024.2) rotate(-90) scale(0.92,1)"><text font-family="Liberation Sans, sans-serif" fill="#000" stroke="#fff" stroke-width="0.3" font-size="30.5" text-anchor="middle">0.0000</text></g>
<g transform="translate(321.2,1124.2) scale(0.94,1)"><text font-family="Liberation Sans, sans-serif" fill="#000" stroke="#fff" stroke-width="0.3" font-size="31" text-anchor="middle">0</text></g>
<g transform="translate(711,1124.2) scale(0.94,1)"><text font-family="Liberation Sans, sans-serif" fill="#000" stroke="#fff" stroke-width="0.3" font-size="31" text-anchor="middle">500</text></g>
<g transform="translate(1103.6,1124.2) scale(0.94,1)"><text font-family="Liberation Sans, sans-serif" fill="#000" stroke="#fff" stroke-width="0.3" font-size="31" text-anchor="middle">1000</text><rect x="-32.82" y="-3.42" width="5.88" height="4.12" fill="#fff"/><rect x="-23.70" y="-3.42" width="6.12" height="4.12" fill="#fff"/></g>
<text font-family="Liberation Sans, sans-serif" fill="#000" stroke="#fff" stroke-width="0.3" font-size="29.5" text-anchor="middle" transform="translate(741.5,1179.2) scale(0.942,1)">GHI Average(Wh/m^2)</text>
<text font-family="Liberation Sans, sans-serif" fill="#000" stroke="#fff" stroke-width="0.3" font-size="29" text-anchor="middle" transform="translate(30,536.3) rotate(-90) scale(0.97,1)">Density</text>
<text font-family="Liberation Sans, sans-serif" fill="#000" stroke="#fff" stroke-width="0.3" font-size="24.4" transform="translate(1184.8,50.8) scale(0.962,1)">Actual GHI</text>
<text font-family="Liberation Sans, sans-serif" fill="#000" stroke="#fff" stroke-width="0.3" font-size="24.4" transform="translate(1184.8,84.4) scale(0.962,1)">AQR Forecasts</text>
<path fill="none" stroke="#0a0a0a" stroke-width="3.3" d="M446.8,61.8 C448.6,58.9 451.2,57.7 454.3,57.7 C459.6,57.7 462.3,60.3 462.3,65.5 L462.3,80.7 M462.3,67.6 L452.8,67.8 C447.6,68.1 445.2,71 445.2,74.5 C445.2,78.2 447.8,80.2 451.6,80.2 C455.8,80.2 459.8,77.8 462.3,73.2"/>
<path fill="none" stroke="#0a0a0a" stroke-width="3.3" d="M608.9,440.6 V474.2 M609.4,456.3 C611.4,452.6 614.7,450.9 618.5,450.9 C624.7,450.9 628,455.6 628,462.2 C628,468.8 624.5,472.6 618.5,472.6 C614.6,472.6 611.4,470.9 609.4,467.4"/>
<path fill="none" stroke="#0a0a0a" stroke-width="3.3" d="M1008,730.8 C1006.3,728.7 1004,727.8 1001.3,727.8 C995.5,727.8 991.9,732.3 991.9,738.4 C991.9,744.7 995.6,748.8 1001.3,748.8 C1004,748.8 1006.3,747.9 1008,745.9"/>
<path fill="none" stroke="#0a0a0a" stroke-width="3.3" d="M1301.9,933 V967.9 M1301.2,949.6 C1299.3,946.6 1296.2,945.2 1292.3,945.2 C1286.1,945.2 1282.8,950 1282.8,956.4 C1282.8,962.8 1286.1,966.6 1291.7,966.6 C1295.7,966.6 1299,964.8 1301.2,961.4"/>
</svg>
</body></html>
